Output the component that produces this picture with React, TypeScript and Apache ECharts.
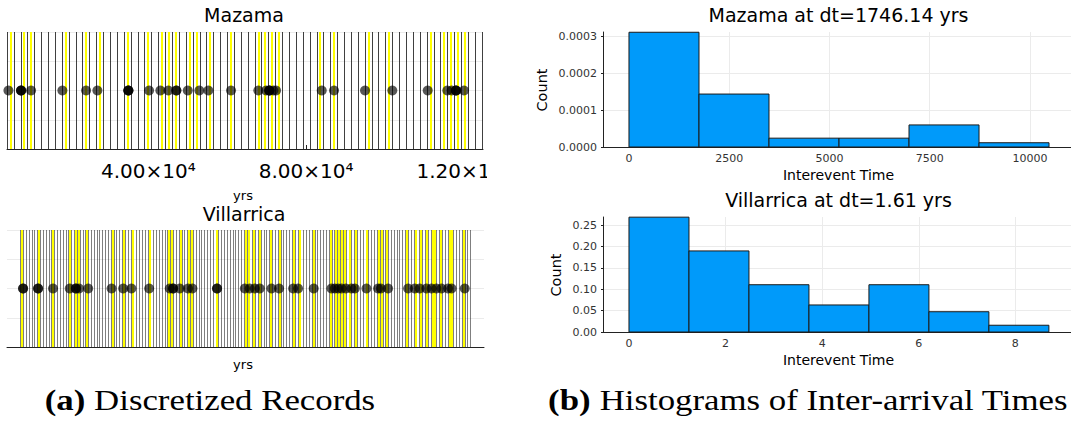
import React, { useEffect, useRef } from "react";
import * as echarts from "echarts";

const SANS = "DejaVu Sans";
const SERIF = "Liberation Serif";

// ---- (a) discretized records -------------------------------------------
// Mazama: event times in years, binned at dt
const mazamaDt = 1746.14;
const mazamaStart = 4134;
const mazamaEnd = 124873;
const mazamaBinCount = 69;
const mazamaEvents = [
  4500, 7710, 7710, 7710, 10245, 18184, 24193, 27059, 34921, 34921, 34921,
  40170, 43036, 45065, 47093, 47093, 49984, 52926, 55209, 60965, 67888, 69841,
  70678, 70678, 70678, 71692, 72377, 83967, 87086, 94948, 101871, 110848,
  115819, 116935, 118025, 118025, 118025, 120054,
];
const mazamaTicks = [40000, 80000, 120000];

// Villarrica: event times in years since the first bin edge
const villarricaDt = 1.61;
const villarricaBinCount = 159;
const villarricaEvents = [
  1.48, 1.48, 10.0, 10.0, 18.5, 28.0, 31.5, 31.5, 33.3, 38.5, 51.8, 58.4,
  63.1, 73.2, 84.9, 86.8, 86.8, 90.6, 95.3, 97.8, 111.8, 111.8, 127.6, 130.4,
  133.3, 136.1, 142.8, 147.1, 155.1, 157.9, 166.8, 176.9, 178.8, 180.7, 182.6,
  185.1, 188.3, 190.2, 196.8, 203.4, 205.0, 209.1, 220.5, 224.3, 227.1, 230.9,
  233.8, 236.6, 239.5, 243.2, 245.2, 252.7,
];

// ---- (b) inter-arrival histograms (normalized) ---------------------------
const mazamaHistBin = 1746.14;
const mazamaHistDensity = [0.0003103, 0.0001432, 0.0000239, 0.0000239, 0.0000597, 0.0000115];
const mazamaHistXTicks = [0, 2500, 5000, 7500, 10000];
const mazamaHistYTicks = [0, 0.0001, 0.0002, 0.0003];

const villarricaHistBin = 1.242;
const villarricaHistDensity = [0.2684, 0.1895, 0.1105, 0.0632, 0.1105, 0.0474, 0.0158];
const villarricaHistXTicks = [0, 2, 4, 6, 8];
const villarricaHistYTicks = [0, 0.05, 0.1, 0.15, 0.2, 0.25];

const GRID_COLOR = "#ebebeb";
const AXIS_COLOR = "#222";
const LABEL_COLOR = "#333";
const SUPERSCRIPT = "⁰¹²³⁴⁵⁶⁷⁸⁹";

function stripSeries(idx: number, events: number[], start: number, dt: number, bins: number, edgeOpacity: number) {
  const edges = Array.from({ length: bins + 1 }, (_, k) => start + k * dt);
  const occupied = Array.from(new Set(events.map((t) => Math.floor((t - start) / dt)))).filter(
    (i) => i >= 0 && i < bins
  );
  const centers = occupied.map((i) => start + (i + 0.5) * dt);
  const lineSeries = (values: number[], color: string, width: number, opacity: number, z: number) => ({
    type: "scatter",
    xAxisIndex: idx,
    yAxisIndex: idx,
    data: [],
    silent: true,
    z,
    markLine: {
      silent: true,
      symbol: ["none", "none"],
      label: { show: false },
      emphasis: { disabled: true },
      lineStyle: { color, width, type: "solid", opacity },
      data: values.map((v) => ({ xAxis: v })),
    },
  });
  return [
    lineSeries(edges, "#000", 1, edgeOpacity, 2),
    lineSeries(centers, "#ffff00", 2, 1, 3),
    {
      type: "scatter",
      xAxisIndex: idx,
      yAxisIndex: idx,
      z: 5,
      symbolSize: 10,
      itemStyle: { color: "#000", opacity: 0.66 },
      emphasis: { disabled: true },
      data: events.map((t) => [t, 0]),
    },
  ];
}

function sciLabel(v: number) {
  const e = Math.floor(Math.log10(v));
  const m = (v / Math.pow(10, e)).toFixed(2);
  const sup = String(e)
    .split("")
    .map((d) => SUPERSCRIPT[Number(d)])
    .join("");
  return `${m}×10${sup}`;
}

function histSeries(idx: number, bin: number, density: number[]) {
  return {
    type: "custom",
    xAxisIndex: idx,
    yAxisIndex: idx,
    dimensions: ["x0", "x1", "h"],
    encode: { x: [0, 1], y: 2 },
    data: density.map((h, i) => [i * bin, (i + 1) * bin, h]),
    renderItem: (_params: any, api: any) => {
      const p0 = api.coord([api.value(0), api.value(2)]);
      const p1 = api.coord([api.value(1), 0]);
      return {
        type: "rect",
        shape: { x: p0[0], y: p0[1], width: p1[0] - p0[0], height: p1[1] - p0[1] },
        style: { fill: "#009afa", stroke: "#1a1a1a", lineWidth: 1 },
      };
    },
  };
}

function text(x: number, y: number, str: string, size: number, extra: any = {}) {
  return {
    type: "text",
    x,
    y,
    silent: true,
    ...extra,
    style: {
      text: str,
      fontSize: size,
      fontFamily: SANS,
      fill: "#000",
      align: "center",
      verticalAlign: "middle",
      textAlign: "center",
      textVerticalAlign: "middle",
      ...(extra.style || {}),
    },
  };
}

function caption(x: number, label: string, body: string) {
  return text(x, 400, `{b|${label}} ${body}`, 29, {
    scaleX: 1.2,
    style: {
      fontFamily: SERIF,
      rich: { b: { fontFamily: SERIF, fontSize: 29, fontWeight: "bold" } },
    },
  });
}

function leftOption(): any {
  return {
    animation: false,
    grid: [
      { left: 7, top: 32, width: 476, height: 117 },
      { left: 7, top: 230, width: 477, height: 117 },
    ],
    xAxis: [
      {
        type: "value",
        gridIndex: 0,
        min: mazamaStart,
        max: mazamaEnd,
        axisLine: { onZero: false, lineStyle: { color: AXIS_COLOR, width: 1 } },
        axisTick: { show: true, inside: true, length: 4, customValues: mazamaTicks, lineStyle: { color: AXIS_COLOR } },
        splitLine: { show: false },
        axisLabel: {
          customValues: mazamaTicks,
          margin: 12,
          formatter: sciLabel,
          fontSize: 20,
          fontFamily: SANS,
          color: "#000",
        },
      },
      {
        type: "value",
        gridIndex: 1,
        min: -0.03 * villarricaBinCount * villarricaDt,
        max: 1.03 * villarricaBinCount * villarricaDt,
        axisLine: { onZero: false, lineStyle: { color: AXIS_COLOR, width: 1 } },
        axisTick: { show: false },
        splitLine: { show: false },
        axisLabel: { show: false },
      },
    ],
    yAxis: [0, 1].map((g) => ({
      type: "value",
      gridIndex: g,
      min: -1,
      max: 1,
      interval: 0.5,
      axisLine: { show: false },
      axisTick: { show: false },
      axisLabel: { show: false },
      splitLine: { show: true, lineStyle: { color: GRID_COLOR, width: 1 } },
    })),
    series: [
      ...stripSeries(0, mazamaEvents, mazamaStart, mazamaDt, mazamaBinCount, 0.75),
      ...stripSeries(1, villarricaEvents, 0, villarricaDt, villarricaBinCount, 0.5),
    ],
    graphic: [
      text(244, 15, "Mazama", 19),
      text(243, 195, "yrs", 13),
      text(244, 214, "Villarrica", 19),
      text(243, 364, "yrs", 13),
      caption(210, "(a)", "Discretized Records"),
    ],
  };
}

function histAxes(idx: number, xMin: number, xMax: number, xTicks: number[], yMax: number, yTicks: number[], digits: number) {
  const x = {
    type: "value",
    gridIndex: idx,
    min: xMin,
    max: xMax,
    axisLine: { onZero: false, lineStyle: { color: AXIS_COLOR, width: 1 } },
    axisTick: { show: true, inside: true, length: 3, customValues: xTicks, lineStyle: { color: AXIS_COLOR } },
    axisLabel: {
      customValues: xTicks,
      fontSize: 11,
      fontFamily: SANS,
      color: LABEL_COLOR,
      margin: 6,
      formatter: (v: number) => String(v),
    },
    splitLine: { show: true, lineStyle: { color: GRID_COLOR, width: 1 } },
  };
  const y = {
    type: "value",
    gridIndex: idx,
    min: 0,
    max: yMax,
    axisLine: { show: true, onZero: false, lineStyle: { color: AXIS_COLOR, width: 1 } },
    axisTick: { show: true, length: 2, customValues: yTicks, lineStyle: { color: AXIS_COLOR } },
    axisLabel: {
      customValues: yTicks,
      fontSize: 11,
      fontFamily: SANS,
      color: LABEL_COLOR,
      margin: 6,
      formatter: (v: number) => v.toFixed(digits),
    },
    splitLine: { show: true, lineStyle: { color: GRID_COLOR, width: 1 } },
  };
  return { x, y };
}

function rightOption(): any {
  const a = histAxes(0, -648, 11025, mazamaHistXTicks, 0.000311, mazamaHistYTicks, 4);
  const b = histAxes(1, -0.538, 9.152, villarricaHistXTicks, 0.2688, villarricaHistYTicks, 2);
  return {
    animation: false,
    grid: [
      { left: 116, top: 32, right: 0, height: 115 },
      { left: 116, top: 217, right: 0, height: 115 },
    ],
    xAxis: [a.x, b.x],
    yAxis: [a.y, b.y],
    series: [
      histSeries(0, mazamaHistBin, mazamaHistDensity),
      histSeries(1, villarricaHistBin, villarricaHistDensity),
    ],
    graphic: [
      text(351.5, 15, "Mazama at dt=1746.14 yrs", 19),
      text(55, 90, "Count", 14.5, { rotation: Math.PI / 2 }),
      text(351.5, 175, "Interevent Time", 14),
      text(351.5, 200, "Villarrica at dt=1.61 yrs", 19),
      text(69, 275, "Count", 14.5, { rotation: Math.PI / 2 }),
      text(351.5, 360, "Interevent Time", 14),
      caption(321, "(b)", "Histograms of Inter-arrival Times"),
    ],
  };
}

function Chart({ option, width, height }: { option: any; width: number; height: number }) {
  const ref = useRef<HTMLDivElement>(null);
  useEffect(() => {
    if (!ref.current) return;
    const chart = echarts.init(ref.current, undefined, { renderer: "svg" });
    chart.setOption(option);
    return () => chart.dispose();
  }, [option]);
  return <div ref={ref} style={{ width, height }} />;
}

const LEFT = leftOption();
const RIGHT = rightOption();

export default function App() {
  return (
    <div
      style={{
        position: "fixed",
        left: 0,
        top: 0,
        width: 1071,
        height: 423,
        overflow: "hidden",
        background: "#fff",
      }}
    >
      <div style={{ position: "absolute", left: 0, top: 0, width: 487, height: 423, overflow: "hidden" }}>
        <Chart option={LEFT} width={540} height={423} />
      </div>
      <div style={{ position: "absolute", left: 487, top: 0, width: 584, height: 423 }}>
        <Chart option={RIGHT} width={584} height={423} />
      </div>
    </div>
  );
}
